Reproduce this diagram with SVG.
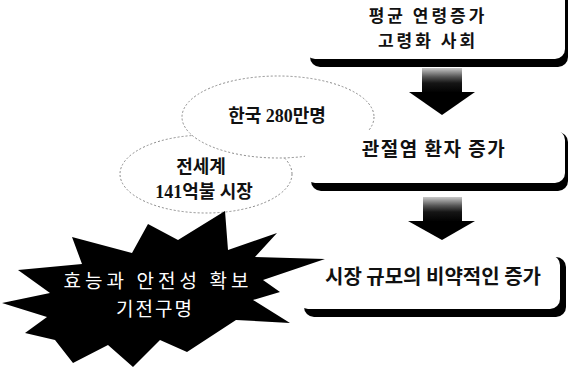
<svg xmlns="http://www.w3.org/2000/svg" width="571" height="368" viewBox="0 0 571 368">
<style>
.box{fill:#fff}
.shadow{fill:#000}
.bt{font-family:"Noto Sans CJK KR","Noto Sans",sans-serif;font-weight:bold;fill:#111;text-anchor:middle}
.et{font-family:"Liberation Serif","Noto Sans CJK KR",serif;font-weight:bold;fill:#111;text-anchor:middle;font-size:18px}
.ell{fill:#fff;stroke:#8a8a8a;stroke-width:1;stroke-dasharray:2 2}
.st{font-family:"Noto Sans CJK KR","Noto Sans",sans-serif;fill:#fff;text-anchor:middle;font-size:19px}
</style>
<defs>
<linearGradient id="half" x1="0" y1="0" x2="0" y2="1">
<stop offset="0" stop-color="#c8c8c8"/>
<stop offset="0.35" stop-color="#555"/>
<stop offset="0.6" stop-color="#151515"/>
<stop offset="1" stop-color="#000"/>
</linearGradient>
</defs>
<rect width="571" height="368" fill="#fff"/>

<g id="ellipse-world">
<ellipse class="ell" cx="206" cy="174" rx="86" ry="39"/>
<text class="et" x="201" y="173">전세계</text>
<text class="et" x="204" y="198">141억불 시장</text>
</g>
<g id="ellipse-korea">
<ellipse class="ell" cx="278" cy="117" rx="96" ry="41"/>
<text class="et" x="277" y="122">한국 280만명</text>
</g>

<g id="box-aging">
<rect class="shadow" x="310" y="-12" width="258" height="79" rx="10"/>
<rect class="box" x="305" y="-12" width="260" height="71" rx="10"/>
<text class="bt" x="428" y="22" font-size="17" letter-spacing="3">평균 연령증가</text>
<text class="bt" x="428" y="47" font-size="17" letter-spacing="3">고령화 사회</text>
</g>

<g id="box-patients">
<rect class="shadow" x="311" y="132" width="257" height="59" rx="10"/>
<rect class="box" x="305" y="130" width="260" height="53" rx="10"/>
<text class="bt" x="434" y="156" font-size="19" letter-spacing="1.5">관절염 환자 증가</text>
</g>

<g id="box-market">
<rect class="shadow" x="304" y="257" width="262" height="60" rx="10"/>
<rect class="box" x="298" y="255" width="262" height="54" rx="10"/>
<text class="bt" x="433" y="284" font-size="20">시장 규모의 비약적인 증가</text>
</g>

<g id="connectors">
<rect x="422" y="68" width="40" height="25" fill="url(#half)"/>
<polygon points="409,92 475,92 442,115" fill="#000"/>
<rect x="423" y="197" width="39" height="25" fill="url(#half)"/>
<polygon points="408,221 475,221 442,240" fill="#000"/>
</g>

<g id="starburst">
<polygon fill="#000" points="72,237 132,253 148,224 178,240 225,211 228,250 277,233 255,257 325,259 263,280 280,292 253,300 290,323 236,320 187,352 160,340 133,367 108,345 73,363 55,340 25,333 47,317 2,303 50,293 18,270 82,264"/>
<text class="st" x="156" y="288" textLength="185" lengthAdjust="spacing">효능과 안전성 확보</text>
<text class="st" x="155" y="316" letter-spacing="2">기전구명</text>
</g>
</svg>
